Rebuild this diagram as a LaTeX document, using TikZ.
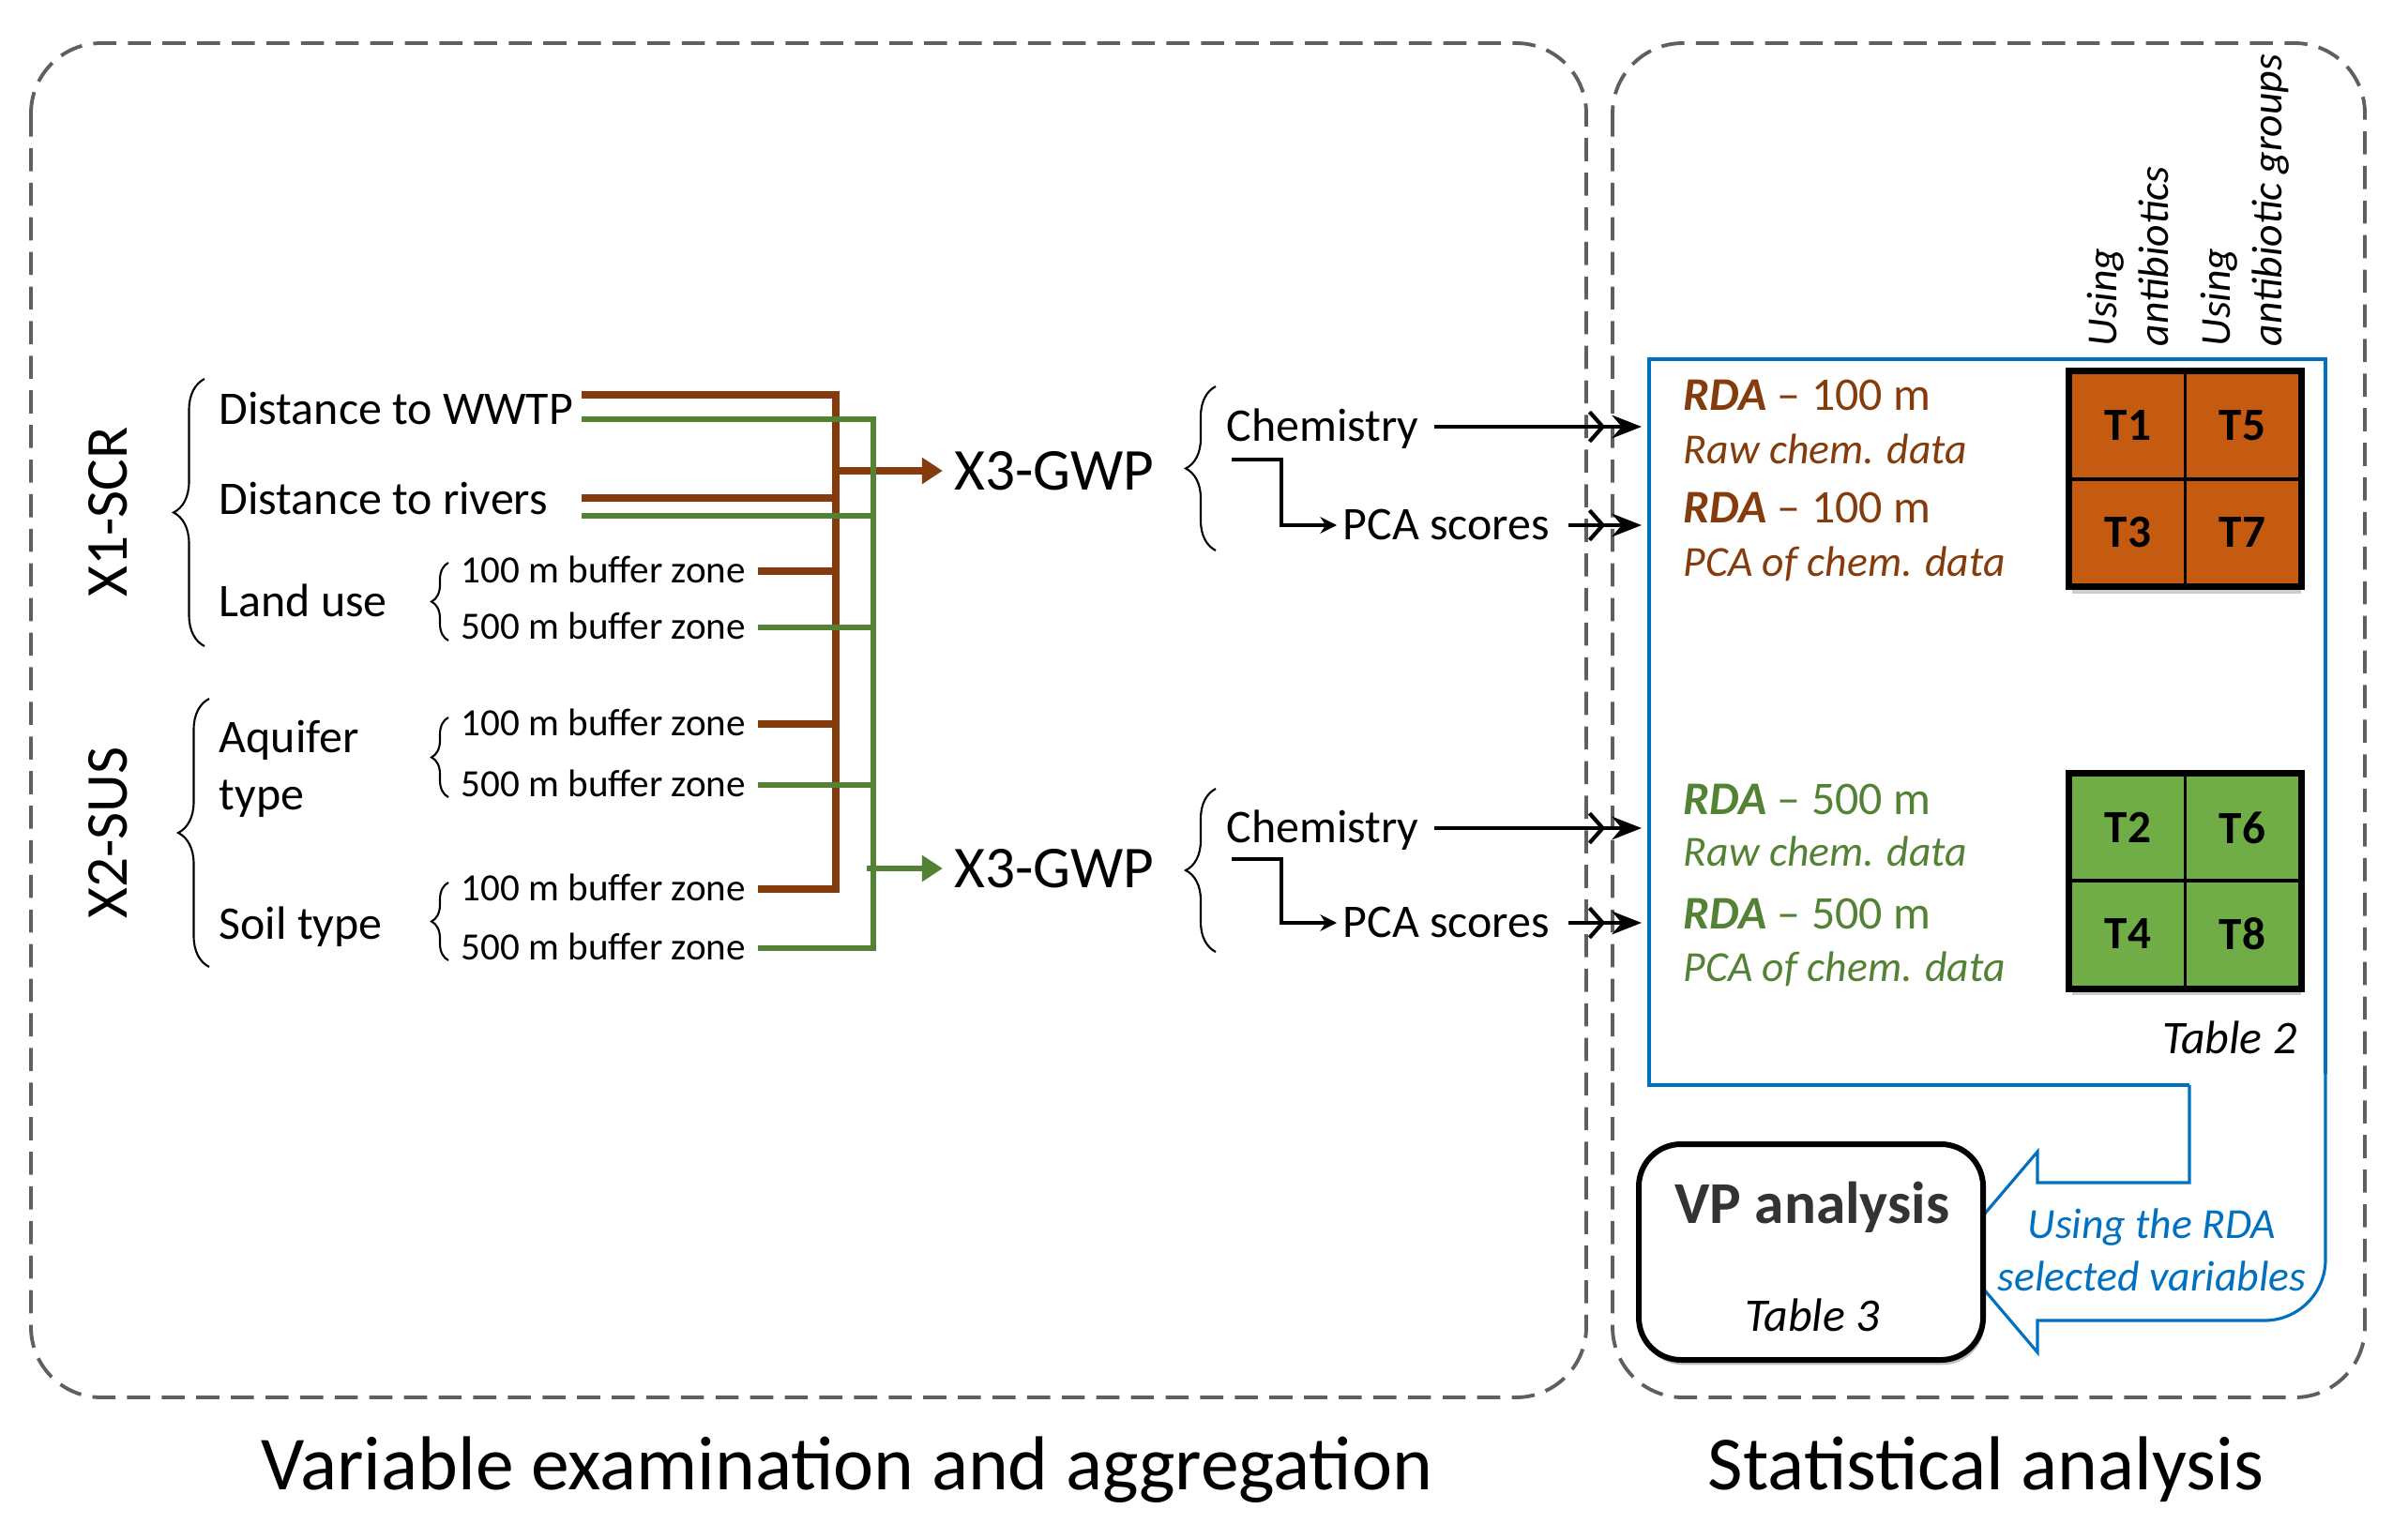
\documentclass[tikz,border=0pt]{standalone}
\usepackage{fontspec}
\setmainfont{Carlito}
\usepackage{tikz}
\usetikzlibrary{arrows.meta,decorations.pathreplacing,shadows}
\definecolor{rust}{HTML}{843C0C}
\definecolor{leaf}{HTML}{548235}
\definecolor{ochre}{HTML}{C55A11}
\definecolor{lime}{HTML}{70AD47}
\definecolor{ocean}{HTML}{0070C0}
\definecolor{frame}{HTML}{5F5F5F}

\tikzset{
  txt/.style={inner sep=0pt, anchor=west, text height=9.2pt, text depth=0.3pt, font=\fontsize{14.2}{17}\selectfont},
  buf/.style={inner sep=0pt, anchor=west, text height=7.6pt, text depth=0.3pt, font=\fontsize{11.7}{14}\selectfont},
  sub/.style={inner sep=0pt, anchor=west, text height=8.4pt, text depth=0.3pt, font=\itshape\fontsize{13}{16}\selectfont},
  grp/.style={rotate=90, inner sep=0pt, font=\fontsize{18}{22}\selectfont},
  gwp/.style={inner sep=0.12cm, font=\fontsize{18}{22}\selectfont},
  brc/.style={decorate, decoration={brace, amplitude=#1}, line width=0.6pt},
  rustln/.style={draw=rust, line width=2.3pt},
  leafln/.style={draw=leaf, line width=1.6pt},
  feed/.style={line width=1.2pt, -{Straight Barb[length=4pt,width=9pt,sep=2pt] Stealth[length=9pt,width=7pt]}},
  elbow/.style={line width=0.9pt, -{Stealth[length=5pt,width=5pt]}},
  zone/.style={draw=frame, line width=1.1pt, dash pattern=on 7pt off 3.5pt, rounded corners=0.75cm},
  cell/.style={draw=black, line width=1.1pt, minimum width=1.22cm, minimum height=1.135cm, inner sep=0pt, font=\bfseries\fontsize{14}{17}\selectfont},
  head/.style={rotate=90, anchor=west, align=left, inner sep=0pt, font=\itshape\fontsize{13}{15.6}\selectfont},
  tblgrid/.style={line width=1.8pt, drop shadow={shadow xshift=0.6pt, shadow yshift=-2.5pt, opacity=0.4}},
}

\begin{document}
\begin{tikzpicture}
  \useasboundingbox (0,0) rectangle (25.67,-16.40);
  \draw[zone] (0.33,-0.46) rectangle (16.91,-14.90);
  \draw[zone] (17.19,-0.46) rectangle (25.21,-14.90);

  \node[grp] (x1) at (1.15,-5.46) {X1-SCR};
  \node[grp] (x2) at (1.15,-8.88) {X2-SUS};
  \draw[brc=0.33cm] (2.18,-6.89) -- (2.18,-4.04);
  \draw[brc=0.33cm] (2.23,-10.31) -- (2.23,-7.45);

  \node[txt] (wwtp) at (2.33,-4.37) {Distance to WWTP};
  \node[txt] (rivers) at (2.33,-5.33) {Distance to rivers};
  \node[txt] (land) at (2.33,-6.42) {Land use};
  \node[align=left, inner sep=0pt, anchor=west, font=\fontsize{14.2}{17.4}\selectfont] (aquifer) at (2.33,-8.20) {Aquifer\\type};
  \node[txt] (soil) at (2.33,-9.86) {Soil type};

  \draw[brc=0.18cm] (4.78,-6.83) -- (4.78,-6.00);
  \draw[brc=0.18cm] (4.78,-8.50) -- (4.78,-7.65);
  \draw[brc=0.18cm] (4.78,-10.24) -- (4.78,-9.41);
  \node[buf] (lu100) at (4.91,-6.09) {100 m buffer zone};
  \node[buf] (lu500) at (4.91,-6.69) {500 m buffer zone};
  \node[buf] (aq100) at (4.91,-7.72) {100 m buffer zone};
  \node[buf] (aq500) at (4.91,-8.37) {500 m buffer zone};
  \node[buf] (sb100) at (4.91,-9.48) {100 m buffer zone};
  \node[buf] (sb500) at (4.91,-10.11) {500 m buffer zone};

  \node[gwp] (x3top) at (11.24,-5.02) {X3-GWP};
  \node[gwp] (x3bot) at (11.24,-9.26) {X3-GWP};

  \coordinate (wwtpR) at (6.20,-4.21);
  \coordinate (wwtpG) at (6.20,-4.47);
  \coordinate (riversR) at (6.20,-5.31);
  \coordinate (riversG) at (6.20,-5.50);
  \path (sb100.east) ++(0.95,0) coordinate (rbot);
  \path (sb500.east) ++(1.35,0) coordinate (gbot);

  \draw[rustln] (wwtpR) -| (rbot) -- ([xshift=0.12cm]sb100.east);
  \draw[rustln] (riversR) -- (riversR -| rbot);
  \draw[rustln] ([xshift=0.12cm]lu100.east) -- (lu100.east -| rbot);
  \draw[rustln] ([xshift=0.12cm]aq100.east) -- (aq100.east -| rbot);
  \draw[rustln, -{Triangle[length=0.22cm,width=0.27cm]}] (rbot |- x3top.west) -- (x3top.west);

  \draw[leafln] (wwtpG) -| (gbot) -- ([xshift=0.12cm]sb500.east);
  \draw[leafln] (riversG) -- (riversG -| gbot);
  \draw[leafln] ([xshift=0.12cm]lu500.east) -- (lu500.east -| gbot);
  \draw[leafln] ([xshift=0.12cm]aq500.east) -- (aq500.east -| gbot);
  \draw[leafln, -{Triangle[length=0.22cm,width=0.27cm]}] ([xshift=-0.07cm]gbot |- x3bot.west) -- (x3bot.west);

  \draw[brc=0.32cm] (12.96,-5.87) -- (12.96,-4.12);
  \draw[brc=0.32cm] (12.96,-10.15) -- (12.96,-8.41);
  \node[txt] (chemA) at (13.07,-4.55) {Chemistry};
  \node[txt] (pcaA) at (14.31,-5.60) {PCA scores};
  \node[txt] (chemB) at (13.07,-8.83) {Chemistry};
  \node[txt] (pcaB) at (14.31,-9.84) {PCA scores};

  \coordinate (tabL) at (17.50,-4.56);
  \draw[feed] ([xshift=0.16cm]chemA.east) -- (chemA.east -| tabL);
  \draw[feed] ([xshift=0.19cm]pcaA.east) -- (pcaA.east -| tabL);
  \draw[feed] ([xshift=0.16cm]chemB.east) -- (chemB.east -| tabL);
  \draw[feed] ([xshift=0.19cm]pcaB.east) -- (pcaB.east -| tabL);
  \draw[elbow] ([xshift=0.06cm,yshift=-0.35cm]chemA.west) -- ++(0.53,0) |- ([xshift=-0.06cm]pcaA.west);
  \draw[elbow] ([xshift=0.06cm,yshift=-0.33cm]chemB.west) -- ++(0.53,0) |- ([xshift=-0.06cm]pcaB.west);

  \draw[ocean, line width=1.3pt] (23.34,-11.57) -- (17.58,-11.57) -- (17.58,-3.83) -- (24.79,-3.83) -- (24.79,-11.45);
  \draw[ocean, line width=0.9pt] (23.34,-11.57) -- (23.34,-12.61) -- (21.72,-12.61) -- (21.72,-12.28)
    -- (20.81,-13.35) -- (21.72,-14.42) -- (21.72,-14.08) -- (24.14,-14.08)
    arc[start angle=-90, end angle=0, radius=0.65cm] -- (24.79,-11.45);

  \node[head] (hdA) at (22.685,-3.70) {Using\\antibiotics};
  \node[head] (hdB) at (23.935,-3.70) {Using\\antibiotic groups};

  \path[tblgrid, fill=ochre] (22.07,-3.97) rectangle (24.51,-6.24);
  \node[cell, fill=ochre] (t1) at (22.685,-4.54) {T1};
  \node[cell, fill=ochre] (t5) at (23.905,-4.54) {T5};
  \node[cell, fill=ochre] (t3) at (22.685,-5.675) {T3};
  \node[cell, fill=ochre] (t7) at (23.905,-5.675) {T7};
  \draw[line width=1.8pt] (t1.north west) rectangle (t7.south east);

  \path[tblgrid, fill=lime] (22.07,-8.25) rectangle (24.51,-10.52);
  \node[cell, fill=lime] (t2) at (22.685,-8.825) {T2};
  \node[cell, fill=lime] (t6) at (23.905,-8.825) {T6};
  \node[cell, fill=lime] (t4) at (22.685,-9.96) {T4};
  \node[cell, fill=lime] (t8) at (23.905,-9.96) {T8};
  \draw[line width=1.8pt] (t2.north west) rectangle (t8.south east);

  \node[txt, text=rust] (rda1) at (17.94,-4.22) {\textbf{\textit{RDA}} – 100 m};
  \node[sub, text=rust] (raw1) at (17.94,-4.80) {Raw chem. data};
  \node[txt, text=rust] (rda3) at (17.94,-5.42) {\textbf{\textit{RDA}} – 100 m};
  \node[sub, text=rust] (pca3) at (17.94,-6.00) {PCA of chem. data};
  \node[txt, text=leaf] (rda2) at (17.94,-8.53) {\textbf{\textit{RDA}} – 500 m};
  \node[sub, text=leaf] (raw2) at (17.94,-9.09) {Raw chem. data};
  \node[txt, text=leaf] (rda4) at (17.94,-9.75) {\textbf{\textit{RDA}} – 500 m};
  \node[sub, text=leaf] (pca4) at (17.94,-10.32) {PCA of chem. data};
  \node[txt, anchor=east, font=\itshape\fontsize{14.2}{17}\selectfont] (tab2) at (24.49,-11.08) {Table 2};

  \node[draw, line width=1.7pt, rounded corners=0.45cm, minimum width=3.67cm, minimum height=2.30cm,
    drop shadow={shadow xshift=0.5pt, shadow yshift=-1.5pt, opacity=0.5}, fill=white] (vpbox) at (19.305,-13.35) {};
  \node[font=\bfseries\fontsize{18}{22}\selectfont, text=black!80] (vptitle) at (19.32,-12.87) {VP analysis};
  \node[font=\itshape\fontsize{14.2}{17}\selectfont] (tab3) at (19.32,-14.02) {Table 3};
  \node[align=center, text=ocean, font=\itshape\fontsize{13}{15.9}\selectfont] (using) at (22.94,-13.33) {Using the RDA\\selected variables};

  \node[font=\fontsize{23.2}{28}\selectfont] (capL) at (9.03,-15.67) {Variable examination and aggregation};
  \node[font=\fontsize{23.2}{28}\selectfont] (capR) at (21.17,-15.67) {Statistical analysis};
\end{tikzpicture}
\end{document}
